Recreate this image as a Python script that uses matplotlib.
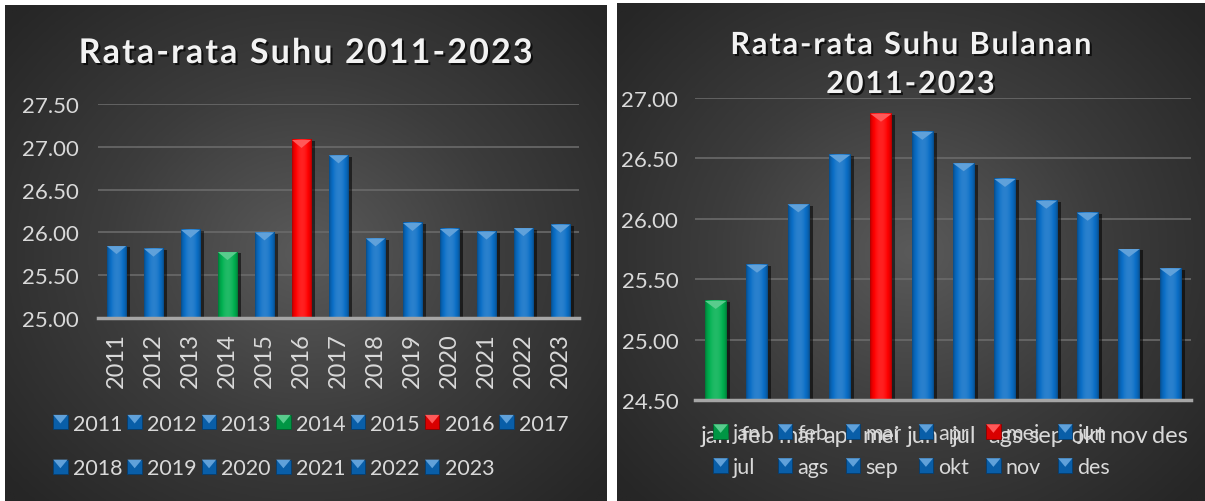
import numpy as np
import matplotlib
matplotlib.use("Agg")
import matplotlib.pyplot as plt
import matplotlib.patheffects as pe
from matplotlib.colors import to_rgb, LinearSegmentedColormap
from matplotlib.patches import Rectangle, Polygon
from matplotlib.legend_handler import HandlerBase

plt.rcParams['font.family'] = ['Lato', 'DejaVu Sans']

# ---- data ----
tahun = ['2011', '2012', '2013', '2014', '2015', '2016', '2017',
         '2018', '2019', '2020', '2021', '2022', '2023']
suhu_tahun = [25.84, 25.81, 26.03, 25.77, 26.00, 27.08, 26.90,
              25.93, 26.11, 26.04, 26.01, 26.05, 26.09]
yticks_tahun = [25.0, 25.5, 26.0, 26.5, 27.0, 27.5]

bulan = ['jan', 'feb', 'mar', 'apr', 'mei', 'jun',
         'jul', 'ags', 'sep', 'okt', 'nov', 'des']
suhu_bulan = [25.32, 25.62, 26.12, 26.53, 26.87, 26.72,
              26.46, 26.33, 26.15, 26.05, 25.75, 25.59]
yticks_bulan = [24.5, 25.0, 25.5, 26.0, 26.5, 27.0]

W, H = 1205, 502
BLUE, GREEN, RED = '#0a6ec6', '#00b050', '#ff0000'
TXT = '#d9d9d9'


def mix(c, other, a):
    c, o = np.array(to_rgb(c)), np.array(to_rgb(other))
    return tuple(c * (1 - a) + o * a)


def shade(c, p):
    c = np.array(to_rgb(c))
    if p < 1:
        return tuple(c * p)
    return tuple(c + (1 - c) * (p - 1))


def bar_colors(values):
    lo, hi = int(np.argmin(values)), int(np.argmax(values))
    return [GREEN if i == lo else RED if i == hi else BLUE for i in range(len(values))]


def row_major(items, ncol):
    # matplotlib fills legend columns first; reorder so rows read left to right
    rows = [items[i:i + ncol] for i in range(0, len(items), ncol)]
    return [r[c] for c in range(ncol) for r in rows if c < len(r)]


def spaced(s):
    # rough letter spacing like the Excel title style
    return '\u200a'.join(s)


class BevelHandler(HandlerBase):
    def create_artists(self, legend, orig_handle, xdescent, ydescent,
                       width, height, fontsize, trans):
        c = orig_handle.get_facecolor()[:3]
        s = height
        x0 = -xdescent + (width - s) / 2
        y0 = -ydescent
        sq = Rectangle((x0, y0), s, s, fc=shade(c, 0.85), ec=shade(c, 0.55),
                       lw=0.6, transform=trans)
        tri = Polygon([(x0, y0 + s), (x0 + s, y0 + s), (x0 + s / 2, y0 + s * 0.4)],
                      closed=True, fc=mix(c, 'white', 0.35), ec='none', transform=trans)
        return [sq, tri]


fig = plt.figure(figsize=(W / 100, H / 100), dpi=100, facecolor='white')


def panel_bg(rect):
    bg = fig.add_axes(rect, zorder=0)
    yy, xx = np.mgrid[0:1:200j, 0:1:300j]
    d = np.sqrt(((xx - 0.5) / 0.7) ** 2 + ((yy - 0.5) / 0.75) ** 2)
    d = np.clip(d / 0.95, 0, 1)
    cmap = LinearSegmentedColormap.from_list('bg', ['#5a5a5a', '#3c3c3c', '#262626'])
    bg.imshow(d, cmap=cmap, extent=(0, 1, 0, 1), aspect='auto', origin='lower',
              vmin=0, vmax=1, interpolation='bilinear')
    bg.axis('off')


def draw_bars(ax, values, ymin, ymax, width, tri_px):
    x = np.arange(len(values))
    cols = bar_colors(values)
    bars = ax.bar(x, np.array(values) - ymin, bottom=ymin, width=width, color=cols,
                  zorder=2, path_effects=[pe.SimplePatchShadow(offset=(2.5, -1),
                                                               shadow_rgbFace='black', alpha=0.55),
                                          pe.Normal()])
    unit_px = ax.get_position().height * H / (ymax - ymin)
    t = np.linspace(0, 1, 40)
    prof = 0.68 + 0.45 * np.sin(np.pi * t) ** 0.6
    for b, c in zip(bars, cols):
        x0, w = b.get_x(), b.get_width()
        top = b.get_y() + b.get_height()
        grad = np.array([[shade(c, p) for p in prof]])
        ax.imshow(grad, extent=(x0, x0 + w, ymin, top), aspect='auto', zorder=2.1,
                  interpolation='bilinear')
        h = tri_px / unit_px
        ax.add_patch(Polygon([(x0, top), (x0 + w, top), (x0 + w / 2, top - h)],
                             closed=True, fc=mix(c, 'white', 0.35), ec='none', zorder=2.2))
    return bars


def style_axes(ax, yticks, ylim, n):
    ax.set_facecolor('none')
    ax.set_xlim(-0.5, n - 0.5)
    ax.set_ylim(*ylim)
    ax.set_yticks(yticks)
    ax.set_yticklabels([f"{v:.2f}" for v in yticks])
    ax.yaxis.grid(True, color='#6a6a6a', lw=1.2)
    ax.set_axisbelow(True)
    for s in ['top', 'left', 'right']:
        ax.spines[s].set_visible(False)
    ax.spines['bottom'].set_color('#a6a6a6')
    ax.spines['bottom'].set_linewidth(2.5)
    ax.spines['bottom'].set_zorder(3)
    ax.tick_params(length=0, colors=TXT, labelsize=17)
    ax.tick_params(axis='y', labelsize=16)


title_fx = [pe.withSimplePatchShadow(offset=(1.5, -1.5), shadow_rgbFace='black', alpha=0.7)]
leg_kw = dict(frameon=False, fontsize=15.5, labelcolor=TXT, handlelength=0.65,
              handleheight=0.65, handletextpad=0.25, borderpad=0,
              handler_map={Rectangle: BevelHandler()})

# ---- left panel: yearly ----
panel_bg([5 / W, 0, 602 / W, 496 / H])
ax1 = fig.add_axes([98 / W, (H - 319) / H, 481 / W, 214 / H], zorder=1)
bars1 = draw_bars(ax1, suhu_tahun, 25.0, 27.5, 0.52, 8)
style_axes(ax1, yticks_tahun, (25.0, 27.5), len(tahun))
ax1.set_xticks(range(len(tahun)))
ax1.set_xticklabels(tahun, rotation=90)
ax1.tick_params(axis='x', pad=10)
ax1.tick_params(axis='y', pad=14)
fig.text(306 / W, 1 - 54 / H, spaced('Rata-rata Suhu 2011-2023'), ha='center', va='center',
         fontsize=24.5, fontweight='bold', color='#f2f2f2', path_effects=title_fx)
fig.legend(row_major(list(bars1.patches), 7), row_major(tahun, 7), loc='center',
           bbox_to_anchor=(311 / W, 1 - 447 / H), ncol=7, columnspacing=0.25,
           labelspacing=1.15, **leg_kw)

# ---- right panel: monthly ----
panel_bg([617 / W, 0, 588 / W, 498 / H])
ax2 = fig.add_axes([695 / W, (H - 401) / H, 496 / W, 302 / H], zorder=1)
bars2 = draw_bars(ax2, suhu_bulan, 24.5, 27.0, 0.52, 8)
style_axes(ax2, yticks_bulan, (24.5, 27.0), len(bulan))
ax2.set_xticks(range(len(bulan)))
ax2.set_xticklabels(bulan)
ax2.tick_params(axis='x', pad=18)
ax2.tick_params(axis='y', pad=12)
fig.text(910 / W, 1 - 46 / H, spaced('Rata-rata Suhu Bulanan'), ha='center', va='center',
         fontsize=22, fontweight='bold', color='#f2f2f2', path_effects=title_fx)
fig.text(910 / W, 1 - 85 / H, spaced('2011-2023'), ha='center', va='center',
         fontsize=22, fontweight='bold', color='#f2f2f2', path_effects=title_fx)
fig.legend(row_major(list(bars2.patches), 6), row_major(bulan, 6), loc='center',
           bbox_to_anchor=(912 / W, 1 - 451 / H), ncol=6, columnspacing=0.8,
           labelspacing=0.65, **leg_kw)

fig.savefig('out.png', dpi=100, facecolor='white')
